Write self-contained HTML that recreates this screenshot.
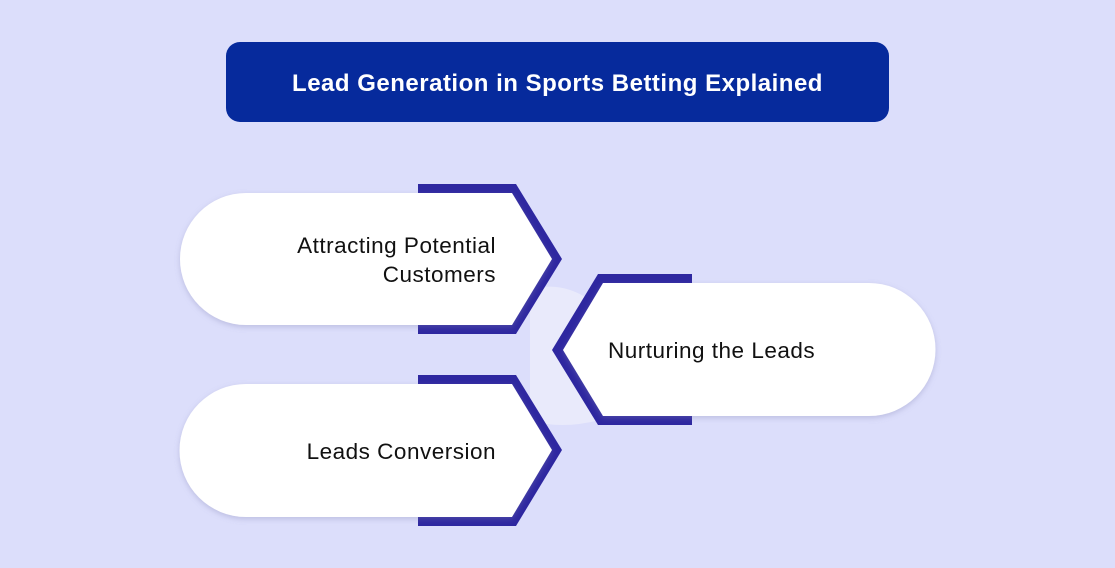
<!DOCTYPE html>
<html><head><meta charset="utf-8"><style>
html,body{margin:0;padding:0;}
body{width:1115px;height:568px;background:#dcdefb;position:relative;overflow:hidden;font-family:"Liberation Sans",sans-serif;}
.title{position:absolute;left:226px;top:42px;width:663px;height:80px;background:#062a9c;border-radius:14px;color:#fff;font-weight:bold;font-size:24px;letter-spacing:0.5px;display:flex;align-items:center;justify-content:center;padding-top:3px;box-sizing:border-box;}
.t{position:absolute;font-size:22.5px;letter-spacing:0.5px;color:#111;line-height:29px;}
</style></head><body>
<div class="title">Lead Generation in Sports Betting Explained</div>
<svg width="1115" height="568" style="position:absolute;left:0;top:0">
<defs><filter id="sh" x="-10%" y="-20%" width="120%" height="140%"><feDropShadow dx="0" dy="2" stdDeviation="3" flood-color="#8080b0" flood-opacity="0.35"/></filter></defs>
<path d="M530 290 Q560 280 590 300 L600 420 Q560 430 530 420 Z" fill="#e9eafb"/>
<polygon points="418,184 516,184 562,259 516,334 418,334" fill="#2e27a0"/>
<path d="M246 193 L512 193 L552 259 L512 325 L246 325 A66 66 0 0 1 246 193 Z" fill="#fff" filter="url(#sh)"/>
<polygon points="418,375 516,375 562,450 516,526 418,526" fill="#2e27a0"/>
<path d="M246 384 L512 384 L552 450 L512 517 L246 517 A66.5 66.5 0 0 1 246 384 Z" fill="#fff" filter="url(#sh)"/>
<polygon points="598,274 692,274 692,425 598,425 552,350" fill="#2e27a0"/>
<path d="M603 283 L869 283 A66.5 66.5 0 0 1 869 416 L603 416 L563 350 Z" fill="#fff" filter="url(#sh)"/>
</svg>
<div class="t" style="right:619px;top:231px;text-align:right">Attracting Potential<br>Customers</div>
<div class="t" style="right:619px;top:437px;text-align:right">Leads Conversion</div>
<div class="t" style="left:608px;top:336px">Nurturing the Leads</div>
</body></html>
